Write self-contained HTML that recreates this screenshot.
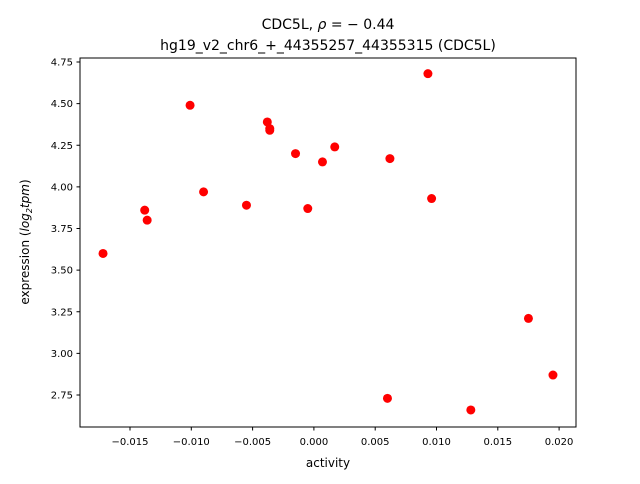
<!DOCTYPE html>
<html><head><meta charset="utf-8"><style>
body{margin:0;background:#fff;font-family:"DejaVu Sans","Liberation Sans",sans-serif;}
svg text{font-family:"DejaVu Sans","Liberation Sans",sans-serif;fill:#000}
</style></head><body>
<svg id="chart" width="640" height="480">
<text x="328" y="29" font-size="14" text-anchor="middle">CDC5L, <tspan font-style="italic">ρ</tspan> = − 0.44</text>
<text x="328" y="50" font-size="14" text-anchor="middle">hg19_v2_chr6_+_44355257_44355315 (CDC5L)</text>
<rect x="80" y="58" width="496" height="369" fill="none" stroke="#000" stroke-width="1"/>
<g id="xt"></g><g id="yt"></g><g id="pts"></g>
<text x="328" y="467" font-size="12" text-anchor="middle">activity</text>
<text transform="translate(29,242) rotate(-90)" font-size="12" text-anchor="middle">expression (<tspan font-style="italic">log</tspan><tspan font-size="8" dy="3" font-style="italic">2</tspan><tspan dy="-3" font-style="italic">tpm</tspan>)</text>
</svg>
<script>
const xVals=[-0.0172,-0.0138,-0.0136,-0.0101,-0.0090,-0.0055,-0.0038,-0.0036,-0.0036,-0.0015,-0.0005,0.0007,0.0017,0.0062,0.0060,0.0093,0.0096,0.0128,0.0175,0.0195];
const yVals=[3.60,3.86,3.80,4.49,3.97,3.89,4.39,4.35,4.34,4.20,3.87,4.15,4.24,4.17,2.73,4.68,3.93,2.66,3.21,2.87];
const xTicks=[-0.015,-0.010,-0.005,0.000,0.005,0.010,0.015,0.020];
const xTickLabels=["−0.015","−0.010","−0.005","0.000","0.005","0.010","0.015","0.020"];
const yTicks=[2.75,3.00,3.25,3.50,3.75,4.00,4.25,4.50,4.75];
const yTickLabels=["2.75","3.00","3.25","3.50","3.75","4.00","4.25","4.50","4.75"];
const X=v=>313.9+v*12260;
const Y=v=>62+(4.75-v)*166.5;
const NS="http://www.w3.org/2000/svg";
const xt=document.getElementById('xt'),yt=document.getElementById('yt'),pts=document.getElementById('pts');
xTicks.forEach((t,i)=>{
 const l=document.createElementNS(NS,'line');
 l.setAttribute('x1',X(t));l.setAttribute('x2',X(t));l.setAttribute('y1',427);l.setAttribute('y2',430.5);l.setAttribute('stroke','#000');
 
 
 xt.appendChild(l);
 const s=document.createElementNS(NS,'text');
 s.setAttribute('x',X(t));s.setAttribute('y',445);s.setAttribute('font-size','10');s.setAttribute('text-anchor','middle');
 s.textContent=xTickLabels[i];
 
 
 xt.appendChild(s);
});
yTicks.forEach((t,i)=>{
 const l=document.createElementNS(NS,'line');
 l.setAttribute('x1',76.5);l.setAttribute('x2',80);l.setAttribute('y1',Y(t));l.setAttribute('y2',Y(t));l.setAttribute('stroke','#000');
 
 
 yt.appendChild(l);
 const s=document.createElementNS(NS,'text');
 s.setAttribute('x',73);s.setAttribute('y',Y(t)+3.5);s.setAttribute('font-size','10');s.setAttribute('text-anchor','end');
 s.textContent=yTickLabels[i];
 
 
 yt.appendChild(s);
});
xVals.forEach((v,i)=>{
 const c=document.createElementNS(NS,'circle');
 c.setAttribute('cx',X(v));c.setAttribute('cy',Y(yVals[i]));c.setAttribute('r',4.5);c.setAttribute('fill','#ff0000');
 
 
 pts.appendChild(c);
});
</script>
</body></html>
